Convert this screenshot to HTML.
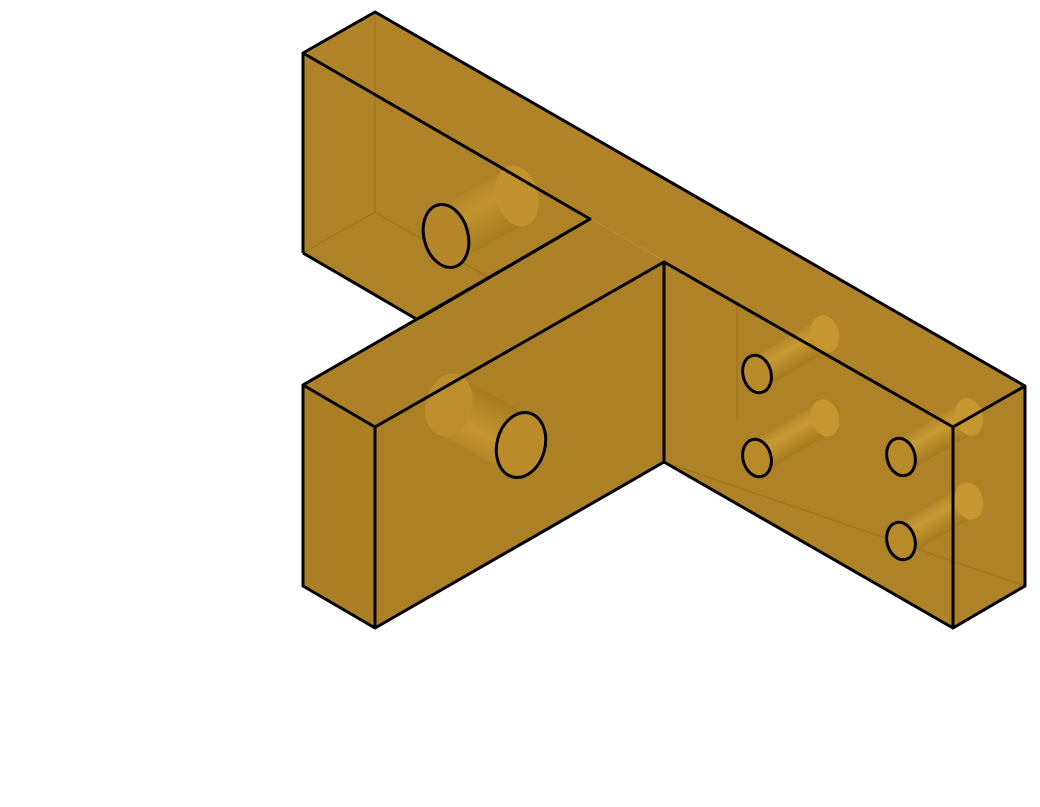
<!DOCTYPE html>
<html><head><meta charset="utf-8"><style>html,body{margin:0;padding:0;background:#fff}svg{display:block}</style></head>
<body>
<svg width="1040" height="807" viewBox="0 0 1040 807" xmlns="http://www.w3.org/2000/svg">
<defs>
<linearGradient id="cyl" x1="0" y1="0" x2="0" y2="1">
<stop offset="0" stop-color="#b5872a"/><stop offset="0.35" stop-color="#c89a34"/><stop offset="1" stop-color="#a47a1e"/>
</linearGradient>
</defs>
<g>
<polygon points="303,53 375,12 1025,386 953,427" fill="#b08329"/>
<polygon points="303,53 953,427 953,628 303,253" fill="#ae8227"/>
<polygon points="953,427 1025,386 1025,586 953,628" fill="#ae8227"/>
</g>
<g stroke="#9a711a" stroke-width="1.2" fill="none" opacity="0.8">
<line x1="375" y1="12" x2="375" y2="212"/><line x1="375" y1="212" x2="303" y2="253"/><line x1="375" y1="212" x2="590" y2="336"/>
<line x1="590" y1="219" x2="590" y2="419"/><line x1="590" y1="419" x2="303" y2="586"/><line x1="590" y1="419" x2="664" y2="462"/>
<line x1="737" y1="304" x2="737" y2="420"/><line x1="664" y1="462" x2="1025" y2="586"/>
</g>
<g>
<polygon points="303,385 375,427 664,262 590,219" fill="#ad8127"/>
<polygon points="303,385 375,427 375,628 303,586" fill="#ab7f24"/>
<polygon points="375,427 664,262 664,462 375,628" fill="#ac8025"/>
</g>
<g>
<g>
<rect x="0" y="-28" width="81" height="56" fill="url(#cyl)" opacity="0.75" transform="translate(446 236) rotate(-29.4)"/>
<ellipse cx="517" cy="196" rx="21" ry="31" transform="rotate(-15 517 196)" fill="#c2922e"/>
<ellipse cx="446" cy="236" rx="22" ry="32" transform="rotate(-15 446 236)" fill="#b5872a" stroke="#000" stroke-width="3"/>
</g>
<g>
<rect x="0" y="-30" width="82" height="60" fill="url(#cyl)" opacity="0.85" transform="translate(521 445) rotate(-151)"/>
<ellipse cx="449" cy="405" rx="23" ry="32" transform="rotate(15 449 405)" fill="#bc8e2c"/>
<ellipse cx="521" cy="445" rx="24" ry="33" transform="rotate(15 521 445)" fill="#b98b2a" stroke="#000" stroke-width="3"/>
</g>
<g>
<rect x="0" y="-16" width="79" height="32" fill="url(#cyl)" transform="translate(757 374) rotate(-30.5)"/>
<ellipse cx="825" cy="334" rx="14" ry="19" transform="rotate(-15 825 334)" fill="#c6962f"/>
<ellipse cx="757" cy="374" rx="14" ry="19" transform="rotate(-15 757 374)" fill="#b88a2a" stroke="#000" stroke-width="3"/>
</g>
<g>
<rect x="0" y="-16" width="79" height="32" fill="url(#cyl)" transform="translate(757 458) rotate(-30.5)"/>
<ellipse cx="825" cy="418" rx="14" ry="19" transform="rotate(-15 825 418)" fill="#c6962f"/>
<ellipse cx="757" cy="458" rx="14" ry="19" transform="rotate(-15 757 458)" fill="#b88a2a" stroke="#000" stroke-width="3"/>
</g>
<g>
<rect x="0" y="-16" width="79" height="32" fill="url(#cyl)" transform="translate(901 457) rotate(-30.5)"/>
<ellipse cx="969" cy="417" rx="14" ry="19" transform="rotate(-15 969 417)" fill="#c6962f"/>
<ellipse cx="901" cy="457" rx="14" ry="19" transform="rotate(-15 901 457)" fill="#b88a2a" stroke="#000" stroke-width="3"/>
</g>
<g>
<rect x="0" y="-16" width="79" height="32" fill="url(#cyl)" transform="translate(901 541) rotate(-30.5)"/>
<ellipse cx="969" cy="501" rx="14" ry="19" transform="rotate(-15 969 501)" fill="#c6962f"/>
<ellipse cx="901" cy="541" rx="14" ry="19" transform="rotate(-15 901 541)" fill="#b88a2a" stroke="#000" stroke-width="3"/>
</g>
</g>
<g stroke="#000" stroke-width="3" fill="none" stroke-linejoin="round">
<polyline points="303,253 303,53 375,12 1025,386 1025,586 953,628 953,427 1025,386"/>
<polyline points="303,53 590,219 420,318"/>
<polyline points="664,262 953,427"/>
<polyline points="664,462 953,628"/>
<polyline points="303,253 418,320"/>
<polygon points="303,385 375,427 375,628 303,586"/>
<polyline points="303,385 590,219"/>
<polyline points="375,427 664,262 664,462 375,628"/>
</g>
</svg>
</body></html>
